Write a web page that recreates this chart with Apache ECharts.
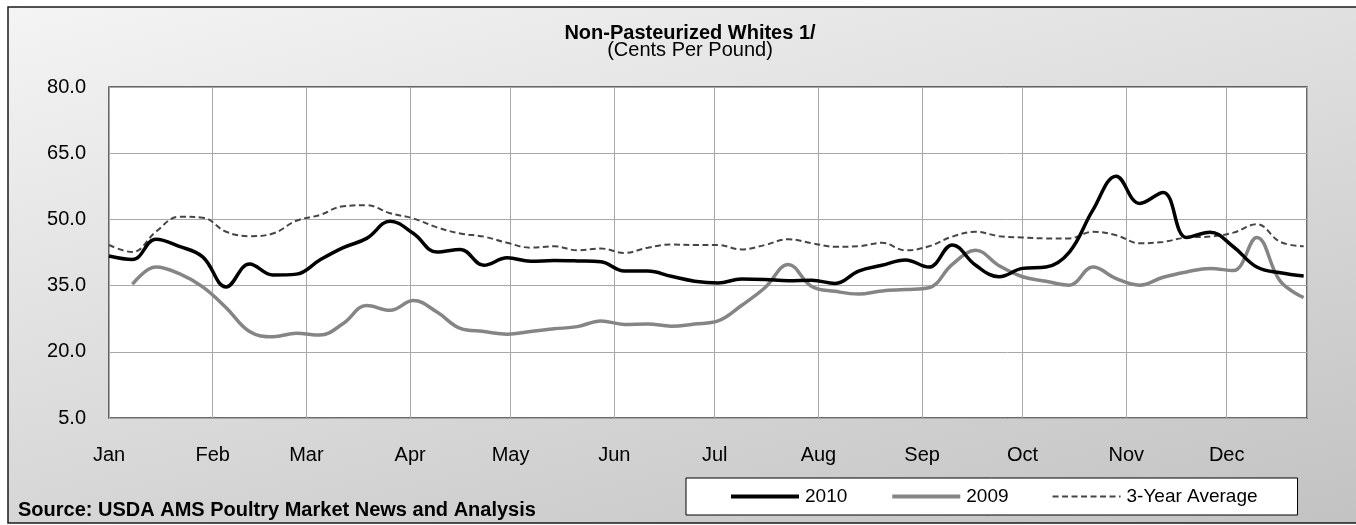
<!DOCTYPE html>
<html>
<head>
<meta charset="utf-8">
<script src="https://cdn.jsdelivr.net/npm/echarts@6/dist/echarts.min.js"></script>
<style>
html,body{margin:0;padding:0;background:#fff;}
#chart{width:1356px;height:525px;}
</style>
</head>
<body>
<div id="chart"></div>
<script>
// ---- data ----
const weekDates = [
  '2010-01-01','2010-01-08','2010-01-15','2010-01-22','2010-01-29',
  '2010-02-05','2010-02-12','2010-02-19','2010-02-26',
  '2010-03-05','2010-03-12','2010-03-19','2010-03-26',
  '2010-04-02','2010-04-09','2010-04-16','2010-04-23','2010-04-30',
  '2010-05-07','2010-05-14','2010-05-21','2010-05-28',
  '2010-06-04','2010-06-11','2010-06-18','2010-06-25',
  '2010-07-02','2010-07-09','2010-07-16','2010-07-23','2010-07-30',
  '2010-08-06','2010-08-13','2010-08-20','2010-08-27',
  '2010-09-03','2010-09-10','2010-09-17','2010-09-24',
  '2010-10-01','2010-10-08','2010-10-15','2010-10-22','2010-10-29',
  '2010-11-05','2010-11-12','2010-11-19','2010-11-26',
  '2010-12-03','2010-12-10','2010-12-17','2010-12-24'
];
const values2010 = [41.7,40.9,45.5,43.9,41.5,34.7,39.9,37.4,37.6,40.8,
  43.6,45.7,49.6,46.8,42.6,43.2,39.6,41.3,40.5,40.7,
  40.6,40.4,38.3,38.3,37.1,36.0,35.6,36.5,36.4,36.1,
  36.2,35.5,38.3,39.6,40.8,39.2,44.2,39.6,37.0,38.9,
  39.2,42.6,52.1,59.8,53.6,56.1,45.9,47.1,43.8,39.2,
  37.9,37.2];
const values2009 = [null,35.3,39.2,37.7,34.7,30.0,24.6,23.4,24.2,23.8,
  26.4,30.5,29.4,31.6,29.0,25.3,24.6,24.0,24.6,25.2,
  25.7,27.0,26.2,26.3,25.8,26.3,27.0,30.5,34.5,39.8,
  34.8,33.7,33.1,33.8,34.1,34.5,39.8,43.0,39.5,37.0,
  36.0,35.1,39.2,36.6,35.1,36.9,38.1,38.9,38.4,45.9,
  36.0,32.3];
const valuesAvg = [44.2,42.6,47.2,50.6,50.4,47.2,46.2,46.8,49.7,51.0,
  53.0,53.2,51.4,50.2,48.2,46.8,46.1,44.7,43.6,43.9,
  43.0,43.4,42.4,43.6,44.3,44.2,44.2,43.2,44.2,45.5,
  44.6,43.8,43.9,44.7,43.0,43.9,46.1,47.2,46.2,45.9,
  45.7,45.7,47.2,46.4,44.6,44.9,45.9,46.1,47.0,48.9,
  44.9,43.9];
const monthLabels = ['Jan','Feb','Mar','Apr','May','Jun','Jul','Aug','Sep','Oct','Nov','Dec'];
const seriesNames = ['2010','2009','3-Year Average'];
const axisStart = '2010-01-01';
const axisEnd = '2010-12-25';
const yMin = 5, yMax = 80, yStep = 15;

// ---- chart ----
const FONT = '"Liberation Sans", Arial, sans-serif';
const pair = vals => weekDates.map((d, i) => [d, vals[i]]);
const legendWidths = [4, 4, 2];
const chart = echarts.init(document.getElementById('chart'), null, {renderer: 'canvas'});

chart.setOption({
  animation: false,
  backgroundColor: '#ffffff',
  graphic: [
    {
      type: 'rect', z: -10, silent: true,
      shape: {x: 8, y: 7, width: 1400, height: 516},
      style: {
        fill: new echarts.graphic.LinearGradient(0, 0, 0.16, 1.72, [
          {offset: 0, color: '#f4f4f4'},
          {offset: 1, color: '#bdbdbd'}
        ]),
        stroke: '#1a1a1a', lineWidth: 1.5
      }
    },
    {
      type: 'text', left: 18, top: 500, z: 10,
      style: {
        text: 'Source: USDA AMS Poultry Market News and Analysis',
        font: 'bold 20px ' + FONT, fill: '#000'
      }
    }
  ],
  title: [
    {
      text: 'Non-Pasteurized Whites 1/', left: 690, top: 23, padding: 0, textAlign: 'center',
      textStyle: {fontFamily: FONT, fontSize: 20, fontWeight: 'bold', color: '#000'}
    },
    {
      text: '(Cents Per Pound)', left: 690, top: 40, padding: 0, textAlign: 'center',
      textStyle: {fontFamily: FONT, fontSize: 20, fontWeight: 'normal', color: '#000'}
    }
  ],
  legend: {
    left: 686, top: 478,
    padding: [9, 40, 9, 43],
    itemGap: 43, itemWidth: 68, itemHeight: 10,
    backgroundColor: '#ffffff', borderColor: '#000', borderWidth: 1,
    itemStyle: {opacity: 0},
    textStyle: {fontFamily: FONT, fontSize: 19, color: '#000', padding: [0, 0, 0, 1]},
    data: seriesNames.map((n, i) => ({name: n, lineStyle: {width: legendWidths[i]}}))
  },
  grid: {
    left: 109, right: 49, top: 87, bottom: 107,
    show: true, backgroundColor: '#ffffff', borderColor: '#3a3a3a', borderWidth: 1.5,
    containLabel: false
  },
  xAxis: {
    type: 'time',
    min: axisStart, max: axisEnd,
    splitNumber: 12,
    axisLine: {show: false},
    axisTick: {show: false},
    splitLine: {show: true, lineStyle: {color: '#a8a8a8', width: 1}},
    axisLabel: {
      showMaxLabel: false,
      margin: 27,
      fontFamily: FONT, fontSize: 20, color: '#000',
      formatter: v => monthLabels[new Date(v).getMonth()]
    }
  },
  yAxis: {
    type: 'value',
    min: yMin, max: yMax, interval: yStep,
    axisLine: {show: false},
    axisTick: {show: false},
    splitLine: {show: true, lineStyle: {color: '#a8a8a8', width: 1}},
    axisLabel: {
      margin: 23,
      fontFamily: FONT, fontSize: 20, color: '#000',
      formatter: v => v.toFixed(1)
    }
  },
  series: [
    {
      name: seriesNames[0], type: 'line', data: pair(values2010),
      smooth: 0.4, symbol: 'none', z: 5,
      lineStyle: {color: '#000000', width: 3.5},
      itemStyle: {color: '#000000'}
    },
    {
      name: seriesNames[1], type: 'line', data: pair(values2009),
      smooth: 0.4, symbol: 'none', z: 4, connectNulls: false,
      lineStyle: {color: '#858585', width: 3.5},
      itemStyle: {color: '#858585'}
    },
    {
      name: seriesNames[2], type: 'line', data: pair(valuesAvg),
      smooth: 0.4, symbol: 'none', z: 3,
      lineStyle: {color: '#454545', width: 2, type: [6, 3.5]},
      itemStyle: {color: '#454545'}
    }
  ]
});
</script>
</body>
</html>
